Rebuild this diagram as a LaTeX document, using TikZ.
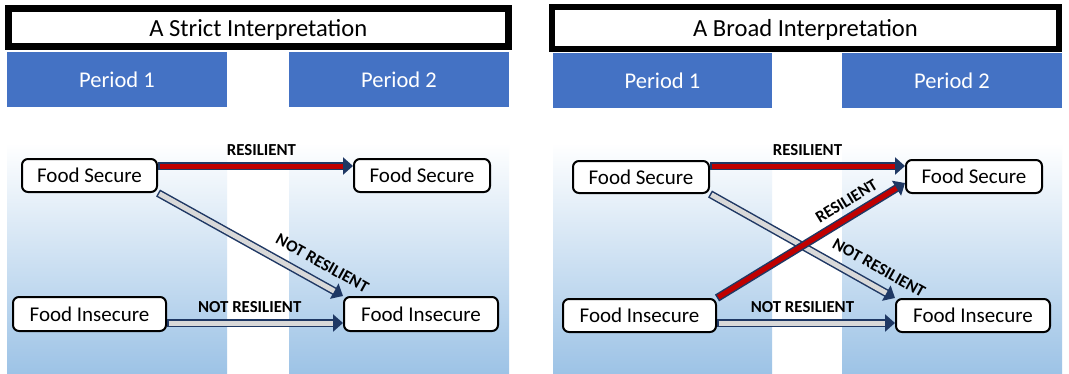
\documentclass[tikz,border=0pt]{standalone}
\usepackage{fontspec}
\setmainfont{Carlito}
\usetikzlibrary{arrows.meta}
\definecolor{periodblue}{HTML}{4472C4}
\definecolor{arrowedge}{HTML}{1F3864}
\definecolor{resred}{HTML}{C00000}
\definecolor{notgray}{HTML}{D9D9D9}
\definecolor{colblue}{HTML}{9DC3E6}
\begin{document}
\begin{tikzpicture}[x=1pt,y=-1pt,
  titlebox/.style={draw=black, line width=6.5pt, fill=white, inner sep=0pt,
    text depth=0pt, font=\fontsize{24.6}{28}\selectfont},
  periodbar/.style={fill=periodblue, text=white, inner sep=0pt, text depth=0pt,
    minimum width=220pt, minimum height=55pt, font=\fontsize{22.5}{26}\selectfont},
  column/.style={top color=white, bottom color=colblue},
  state/.style={draw=black, line width=2pt, rounded corners=6pt, fill=white,
    inner sep=0pt, text depth=0pt, font=\fontsize{21}{24}\selectfont},
  flow/.style={draw=arrowedge, line width=8pt, -{Triangle[length=10pt,width=17pt]}},
  resflow/.style={flow, postaction={draw=resred, line width=5pt, -, shorten >=10pt, shorten <=1.5pt}},
  notflow/.style={flow, postaction={draw=notgray, line width=5pt, -, shorten >=10pt, shorten <=1.5pt}},
  lbl/.style={font=\bfseries\fontsize{16.8}{19}\selectfont, inner sep=1pt, text=black}
]
\useasboundingbox (0,0) rectangle (1069,373);
\fill[white] (0,0) rectangle (1069,373);

% shaded period columns
\shade[column] (7,143) rectangle (227,373);
\shade[column] (289,143) rectangle (509,373);
\shade[column] (553,143) rectangle (772,373);
\shade[column] (842,143) rectangle (1062,373);

% ---------- strict interpretation ----------
\node[titlebox, minimum width=500pt, minimum height=38.4pt] (Ltitle) at (258.3,27.5) {A Strict Interpretation};
\node[periodbar] (Lp1) at (117,79.5) {Period 1};
\node[periodbar] (Lp2) at (399,79.5) {Period 2};

\node[state, minimum width=135pt, minimum height=33pt] (Lfs1) at (89.5,175.5) {Food Secure};
\node[state, minimum width=136pt, minimum height=33pt] (Lfs2) at (422,175.5) {Food Secure};
\node[state, minimum width=153pt, minimum height=34pt] (Lfi1) at (89.5,314) {Food Insecure};
\node[state, minimum width=154pt, minimum height=34pt] (Lfi2) at (421,314) {Food Insecure};

\draw[resflow] ([yshift=9.5pt]Lfs1.east) -- ([yshift=9.5pt]Lfs2.west)
  node[lbl, pos=0.53, above=5pt] {RESILIENT};
\draw[notflow] (Lfs1.south east) -- (Lfi2.north west)
  node[lbl, sloped, pos=0.84, above=8pt] {NOT RESILIENT};
\draw[notflow] ([yshift=-9pt]Lfi1.east) -- ([yshift=-9pt]Lfi2.west)
  node[lbl, pos=0.47, above=5pt] {NOT RESILIENT};

% ---------- broad interpretation ----------
\node[titlebox, minimum width=507pt, minimum height=42pt] (Rtitle) at (805.5,28) {A Broad Interpretation};
\node[periodbar, minimum width=219pt] (Rp1) at (662.5,80.5) {Period 1};
\node[periodbar] (Rp2) at (952,80.5) {Period 2};

\node[state, minimum width=136pt, minimum height=32pt] (Rfs1) at (641,177) {Food Secure};
\node[state, minimum width=136pt, minimum height=33pt] (Rfs2) at (974,176.5) {Food Secure};
\node[state, minimum width=153pt, minimum height=33pt] (Rfi1) at (639.5,315.5) {Food Insecure};
\node[state, minimum width=154pt, minimum height=33pt] (Rfi2) at (973,315.5) {Food Insecure};

\draw[notflow] (Rfs1.south east) -- (Rfi2.north west)
  node[lbl, sloped, pos=0.865, above=8pt] {NOT RESILIENT};
\draw[resflow] ([yshift=11pt]Rfs1.east) -- ([yshift=10.5pt]Rfs2.west)
  node[lbl, midway, above=5pt] {RESILIENT};
\draw[resflow] (Rfi1.north east) -- ([yshift=-6.5pt]Rfs2.west)
  node[lbl, sloped, pos=0.73, above=4.5pt] {RESILIENT};
\draw[notflow] ([yshift=-7.5pt]Rfi1.east) -- ([yshift=-7.5pt]Rfi2.west)
  node[lbl, pos=0.48, above=5pt] {NOT RESILIENT};
\end{tikzpicture}
\end{document}
